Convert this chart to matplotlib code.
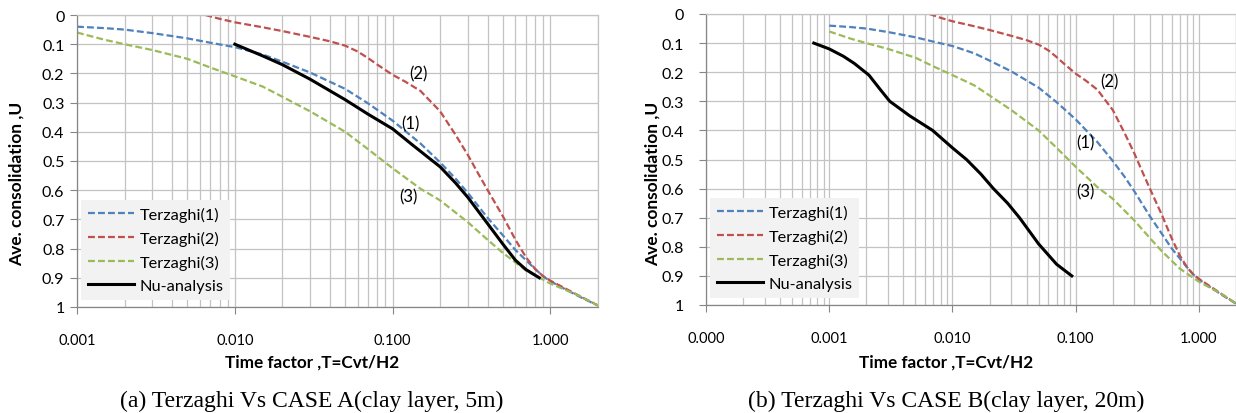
import matplotlib
matplotlib.use("Agg")
import matplotlib.pyplot as plt
from matplotlib.ticker import LogLocator, FixedLocator, FuncFormatter, NullFormatter

# === Terzaghi curves (same for both cases) ===
t_terz1 = [0.001, 0.0015, 0.002, 0.003, 0.005, 0.007, 0.01, 0.015, 0.02, 0.03, 0.05, 0.07, 0.1,
           0.15, 0.2, 0.25, 0.3, 0.4, 0.5, 0.6, 0.7, 0.8, 0.9, 1.0, 1.3, 1.6, 2.0]
u_terz1 = [0.04, 0.045, 0.05, 0.062, 0.08, 0.095, 0.11, 0.135, 0.16, 0.197, 0.253, 0.303, 0.362,
           0.44, 0.505, 0.56, 0.61, 0.695, 0.755, 0.805, 0.84, 0.87, 0.895, 0.912, 0.945, 0.97, 0.995]

t_terz2 = [0.0065, 0.008, 0.01, 0.015, 0.02, 0.03, 0.04, 0.05, 0.06, 0.07, 0.08, 0.1, 0.12, 0.15,
           0.2, 0.25, 0.3, 0.35, 0.4, 0.5, 0.6, 0.7, 0.8, 0.9, 1.0, 1.5, 2.0]
u_terz2 = [0.0, 0.013, 0.025, 0.042, 0.055, 0.075, 0.09, 0.105, 0.125, 0.148, 0.17, 0.205, 0.228, 0.26,
           0.33, 0.41, 0.48, 0.545, 0.60, 0.69, 0.77, 0.83, 0.87, 0.895, 0.91, 0.96, 0.995]

t_terz3 = [0.001, 0.0015, 0.002, 0.003, 0.005, 0.007, 0.01, 0.015, 0.02, 0.03, 0.05, 0.07, 0.1,
           0.15, 0.2, 0.3, 0.4, 0.5, 0.7, 1.0, 1.5, 2.0]
u_terz3 = [0.06, 0.085, 0.10, 0.12, 0.15, 0.18, 0.21, 0.245, 0.28, 0.33, 0.40, 0.46, 0.525,
           0.595, 0.635, 0.71, 0.77, 0.815, 0.875, 0.92, 0.96, 0.995]

# === Numerical analysis ===
t_nu_a = [0.01, 0.015, 0.02, 0.03, 0.05, 0.07, 0.1, 0.13, 0.17, 0.2, 0.25, 0.3, 0.4, 0.5, 0.6, 0.7, 0.85]
u_nu_a = [0.10, 0.14, 0.17, 0.22, 0.29, 0.34, 0.39, 0.44, 0.49, 0.52, 0.575, 0.625, 0.715, 0.785, 0.84, 0.872, 0.90]

t_nu_b = [0.00075, 0.001, 0.0013, 0.0016, 0.0021, 0.0026, 0.0031, 0.0045, 0.0069, 0.01, 0.013,
          0.017, 0.0215, 0.028, 0.035, 0.05, 0.07, 0.093]
u_nu_b = [0.10, 0.12, 0.145, 0.17, 0.21, 0.26, 0.30, 0.35, 0.40, 0.46, 0.50,
          0.55, 0.60, 0.65, 0.70, 0.79, 0.86, 0.90]

legend_labels = ["Terzaghi(1)", "Terzaghi(2)", "Terzaghi(3)", "Nu-analysis"]
curve_tags = ["(1)", "(2)", "(3)"]
tag_pos_a = [(0.13, 0.37), (0.146, 0.20), (0.126, 0.62)]
tag_pos_b = [(0.12, 0.44), (0.187, 0.23), (0.12, 0.61)]
captions = ["(a) Terzaghi Vs CASE A(clay layer, 5m)", "(b) Terzaghi Vs CASE B(clay layer, 20m)"]

W, H = 1236, 414
sans = "Lato"
grid_c = "#c3c3c3"
axis_c = "#868686"
colors = ["#4f81bd", "#c0504d", "#9bbb59"]
dash = (0, (3.1, 1.4))

fig = plt.figure(figsize=(W / 100, H / 100), dpi=100)


def px_axes(x0, x1, y0, y1):
    return fig.add_axes([x0 / W, 1 - y1 / H, (x1 - x0) / W, (y1 - y0) / H])


def draw_panel(ax, xmin, t_nu, u_nu, tags, ypad):
    l1, = ax.plot(t_terz1, u_terz1, color=colors[0], lw=1.6, ls=dash)
    l2, = ax.plot(t_terz2, u_terz2, color=colors[1], lw=1.6, ls=dash)
    l3, = ax.plot(t_terz3, u_terz3, color=colors[2], lw=1.6, ls=dash)
    l4, = ax.plot(t_nu, u_nu, color="black", lw=2.2)
    ax.set_xscale("log")
    ax.set_xlim(xmin, 2.0)
    ax.set_ylim(1, 0)
    ax.xaxis.set_major_locator(LogLocator(base=10, numticks=10))
    ax.xaxis.set_minor_locator(LogLocator(base=10, subs=range(2, 10), numticks=50))
    ax.xaxis.set_major_formatter(FuncFormatter(lambda v, p: f"{v:.3f}"))
    ax.xaxis.set_minor_formatter(NullFormatter())
    ax.yaxis.set_major_locator(FixedLocator([i / 10 for i in range(11)]))
    ax.yaxis.set_major_formatter(FuncFormatter(lambda v, p: f"{v:g}"))
    ax.grid(True, which="both", axis="x", color=grid_c, lw=0.9)
    ax.grid(True, which="major", axis="y", color=grid_c, lw=0.9)
    ax.set_axisbelow(True)
    for s in ["top", "right"]:
        ax.spines[s].set_color(grid_c)
        ax.spines[s].set_linewidth(0.9)
    for s in ["left", "bottom"]:
        ax.spines[s].set_color(axis_c)
        ax.spines[s].set_linewidth(0.9)
    ax.tick_params(axis="x", which="major", length=5, color=axis_c, pad=14, labelsize=10.5)
    ax.tick_params(axis="x", which="minor", length=0)
    ax.tick_params(axis="y", length=5, color=axis_c, pad=ypad, labelsize=11.5)
    for lab in ax.get_xticklabels() + ax.get_yticklabels():
        lab.set_fontfamily(sans)
    for tag, (tx, ty) in zip(curve_tags, tags):
        ax.text(tx, ty, tag, fontsize=12, family=sans, ha="center", va="center")
    leg = ax.legend([l1, l2, l3, l4], legend_labels, loc="lower left",
                    bbox_to_anchor=(0.008, 0.025), prop={"family": sans, "size": 11.8},
                    frameon=True, fancybox=False, handlelength=2.8, handletextpad=0.35,
                    labelspacing=0.55, borderpad=0.4, borderaxespad=0)
    leg.get_frame().set_facecolor("#f2f2f2")
    leg.get_frame().set_edgecolor("none")
    leg.get_frame().set_alpha(1)


ax_a = px_axes(77, 598, 16, 308)
draw_panel(ax_a, 0.001, t_nu_a, u_nu_a, tag_pos_a, 4)

ax_b = px_axes(706, 1236, 15, 306)
draw_panel(ax_b, 0.0001, t_nu_b, u_nu_b, tag_pos_b, 11)

# axis titles and captions
for cx, ycx, cap in [(312, 17, captions[0]), (946, 653, captions[1])]:
    fig.text(ycx / W, 1 - 184 / H, "Ave. consolidation ,U", rotation=90, ha="center", va="center",
             fontsize=12.5, fontweight="bold", family=sans)
    fig.text(cx / W, 1 - 363 / H, "Time factor ,T=Cvt/H2", ha="center", va="center",
             fontsize=12.3, fontweight="bold", family=sans)
    fig.text(cx / W, 1 - 401 / H, cap, ha="center", va="center",
             fontsize=17, family="Liberation Serif")

fig.savefig("out.png", dpi=100)
